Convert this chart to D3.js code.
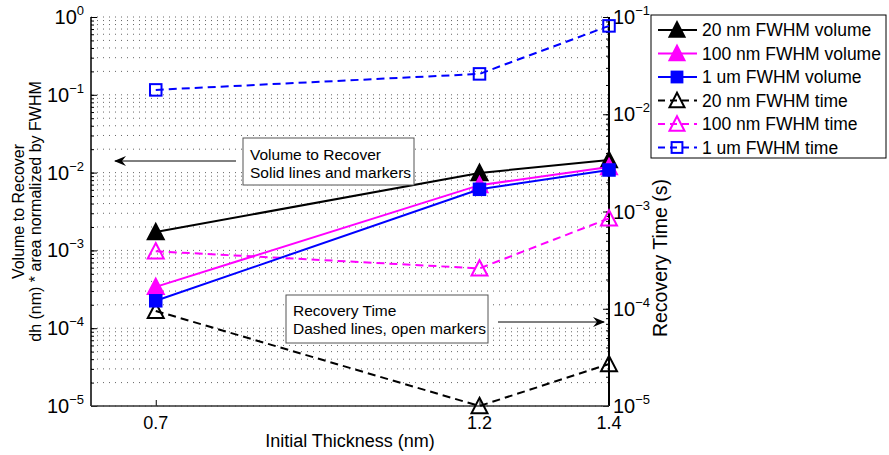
<!DOCTYPE html>
<html><head><meta charset="utf-8">
<script src="https://cdn.jsdelivr.net/npm/d3@7"></script>
<style>
body{margin:0;background:#fff;}
text{font-family:"Liberation Sans",Arial,Helvetica,sans-serif;fill:#000;}
</style></head>
<body><svg id="c" width="889" height="455"></svg>
<script>
const thickness = [0.7, 1.2, 1.4];
const xTicks = [0.7, 1.2, 1.4];
const vol20  = [1.72e-3, 9.9e-3, 1.45e-2];
const vol100 = [3.4e-4, 6.9e-3, 1.18e-2];
const vol1um = [2.25e-4, 6.1e-3, 1.08e-2];
const time20  = [9.5e-5, 1.0e-5, 2.7e-5];
const time100 = [3.9e-4, 2.6e-4, 8.5e-4];
const time1um = [1.78e-2, 2.6e-2, 8.1e-2];
const leftTickExp = [-5, -4, -3, -2, -1, 0];
const rightTickExp = [-5, -4, -3, -2, -1];
const seriesNames = ["20 nm FWHM volume","100 nm FWHM volume","1 um FWHM volume","20 nm FWHM time","100 nm FWHM time","1 um FWHM time"];
const seriesColors = ["#000000","#ff00ff","#0000ff","#000000","#ff00ff","#0000ff"];
const seriesMarkers = ["tri","tri","sq","tri","tri","sq"];
const seriesFilled = [true,true,true,false,false,false];
const seriesDashed = [false,false,false,true,true,true];
const seriesAxis = ["L","L","L","R","R","R"];
const seriesValues = [vol20, vol100, vol1um, time20, time100, time1um];

const svg = d3.select("#c");
const L = 91, R = 609, T = 17, B = 406;
const x = d3.scaleLinear().domain([0.6, 1.4]).range([L, R]);
const yL = d3.scaleLog().domain([1e-5, 1]).range([B, T]);
const yR = d3.scaleLog().domain([1e-5, 1e-1]).range([B, T]);

// grid (left axis, major + minor, dotted)
const grid = svg.append("g");
function minorVals(expArr){ const v=[]; for(let i=0;i<expArr.length-1;i++){ for(let k=1;k<=9;k++) v.push(k*Math.pow(10,expArr[i])); } v.push(Math.pow(10,expArr[expArr.length-1])); return v; }
const gl = minorVals(leftTickExp), gr = minorVals(rightTickExp);
grid.selectAll("line.gl").data(gl).join("line").attr("x1",L).attr("x2",R)
  .attr("y1",d=>yL(d)).attr("y2",d=>yL(d)).attr("stroke","#666").attr("stroke-width",1).attr("stroke-dasharray","1,5");

// axes
const ax = svg.append("g");
const leftMajor = leftTickExp.map(e=>Math.pow(10,e));
const rightMajor = rightTickExp.map(e=>Math.pow(10,e));
const gLm = ax.append("g").attr("transform",`translate(${L},0)`).call(d3.axisLeft(yL).tickValues(gl).tickSize(-3).tickFormat(""));
const gLM = ax.append("g").attr("transform",`translate(${L},0)`).call(d3.axisLeft(yL).tickValues(leftMajor).tickSize(-6).tickFormat(""));
const gRm = ax.append("g").attr("transform",`translate(${R},0)`).call(d3.axisRight(yR).tickValues(gr).tickSize(-3).tickFormat(""));
const gRM = ax.append("g").attr("transform",`translate(${R},0)`).call(d3.axisRight(yR).tickValues(rightMajor).tickSize(-6).tickFormat(""));
const gX = ax.append("g").attr("transform",`translate(0,${B})`).call(d3.axisBottom(x).tickValues(xTicks).tickSize(-6).tickFormat(""));
[gLm,gLM,gRm,gRM,gX].forEach(g=>{ g.select(".domain").remove(); g.selectAll(".tick line").attr("stroke","#000"); });
ax.append("line").attr("x1",L).attr("x2",L).attr("y1",T).attr("y2",B).attr("stroke","#000").attr("stroke-width",1.5);
ax.append("line").attr("x1",R).attr("x2",R).attr("y1",T).attr("y2",B).attr("stroke","#000").attr("stroke-width",2);
ax.append("line").attr("x1",L).attr("x2",R).attr("y1",B).attr("y2",B).attr("stroke","#333").attr("stroke-width",1.5);

// tick labels
function powLabel(g, xp, yp, e, anchor){
  const t = g.append("text").attr("x",xp).attr("y",yp+7).attr("text-anchor",anchor).style("font-size","20px");
  t.append("tspan").text("10");
  t.append("tspan").attr("dy",-9).style("font-size","13px").text(e===0?"0":"\u2212"+Math.abs(e));
}
leftTickExp.forEach(e=>powLabel(ax, L-7, yL(Math.pow(10,e)), e, "end"));
rightTickExp.forEach(e=>powLabel(ax, R+4, yR(Math.pow(10,e)), e, "start"));
ax.selectAll("text.xt").data(xTicks).join("text").attr("class","xt")
  .attr("x",d=>x(d)).attr("y",B+23).attr("text-anchor","middle").style("font-size","18px").text(d=>d.toFixed(1));

// titles
svg.append("text").attr("x",350).attr("y",447).attr("text-anchor","middle").style("font-size","18px").text("Initial Thickness (nm)");
svg.append("text").attr("transform",`translate(24,${(T+B)/2}) rotate(-90)`).attr("text-anchor","middle").style("font-size","16px").text("Volume to Recover");
svg.append("text").attr("transform",`translate(41,${(T+B)/2}) rotate(-90)`).attr("text-anchor","middle").style("font-size","16px").text("dh (nm) * area normalized by FWHM");
svg.append("text").attr("transform",`translate(667,258) rotate(-90)`).attr("text-anchor","middle").style("font-size","19.5px").text("Recovery Time (s)");

// marker helper
function marker(g, type, cx, cy, color, filled, s){
  if(type==="tri"){
    const h=s*0.9, w=s;
    g.append("path").attr("d",`M${cx},${cy-h/2-1}L${cx+w/2},${cy+h/2}L${cx-w/2},${cy+h/2}Z`)
      .attr("fill",filled?color:"none").attr("stroke",color).attr("stroke-width",2).attr("stroke-linejoin","miter");
  } else {
    const a = s*0.72;
    g.append("rect").attr("x",cx-a/2).attr("y",cy-a/2).attr("width",a).attr("height",a)
      .attr("fill",filled?color:"none").attr("stroke",color).attr("stroke-width",2);
  }
}

// series
const plot = svg.append("g");
const order = [3,4,5,0,1,2];
order.forEach(i=>{
  const ys = seriesAxis[i]==="L"?yL:yR;
  const line = d3.line().x((d,j)=>x(thickness[j])).y(d=>ys(d));
  plot.append("path").datum(seriesValues[i]).attr("d",line).attr("fill","none")
    .attr("stroke",seriesColors[i]).attr("stroke-width",2)
    .attr("stroke-dasharray",seriesDashed[i]?"8,5":null);
  seriesValues[i].forEach((v,j)=>marker(plot, seriesMarkers[i], x(thickness[j]), ys(v), seriesColors[i], seriesFilled[i], 16));
});

// annotations
const ann = svg.append("g");
const defs = svg.append("defs");
defs.append("marker").attr("id","arr").attr("viewBox","0 0 12 10").attr("refX",11).attr("refY",5)
  .attr("markerWidth",12).attr("markerHeight",10).attr("markerUnits","userSpaceOnUse").attr("orient","auto")
  .append("path").attr("d","M0,0L12,5L0,10L4,5Z").attr("fill","#000");
ann.append("rect").attr("x",243).attr("y",138).attr("width",171).attr("height",47).attr("fill","#fff").attr("stroke","#555");
ann.append("text").attr("x",250).attr("y",160).style("font-size","15.5px").text("Volume to Recover");
ann.append("text").attr("x",250).attr("y",178).style("font-size","15.5px").text("Solid lines and markers");
ann.append("line").attr("x1",236).attr("y1",161).attr("x2",115).attr("y2",161).attr("stroke","#000").attr("stroke-width",1).attr("marker-end","url(#arr)");
ann.append("rect").attr("x",286).attr("y",295).attr("width",202).attr("height",48).attr("fill","#fff").attr("stroke","#555");
ann.append("text").attr("x",293).attr("y",316).style("font-size","15.5px").text("Recovery Time");
ann.append("text").attr("x",293).attr("y",334).style("font-size","15.5px").text("Dashed lines, open markers");
ann.append("line").attr("x1",498).attr("y1",322).attr("x2",604).attr("y2",322).attr("stroke","#000").attr("stroke-width",1).attr("marker-end","url(#arr)");

// legend
const lg = svg.append("g");
lg.append("rect").attr("x",651).attr("y",15).attr("width",235).attr("height",143).attr("fill","#fff").attr("stroke","#000").attr("stroke-width",1);
seriesNames.forEach((n,i)=>{
  const yy = 30 + i*23.5;
  lg.append("line").attr("x1",658).attr("x2",697).attr("y1",yy).attr("y2",yy).attr("stroke",seriesColors[i]).attr("stroke-width",2)
    .attr("stroke-dasharray",seriesDashed[i]?"7,5":null);
  marker(lg, seriesMarkers[i], 677, yy, seriesColors[i], seriesFilled[i], 15);
  lg.append("text").attr("x",702).attr("y",yy+6).style("font-size","17.5px").text(n);
});
</script></body></html>
